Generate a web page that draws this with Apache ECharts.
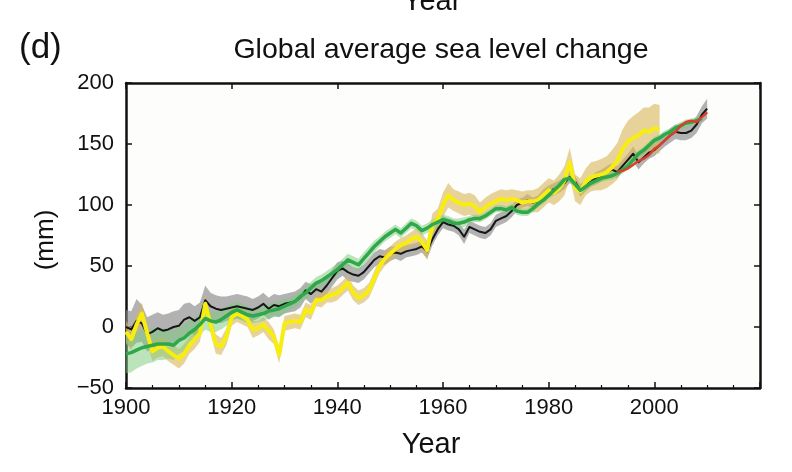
<!DOCTYPE html>
<html>
<head>
<meta charset="utf-8">
<script src="https://cdn.jsdelivr.net/npm/echarts@6/dist/echarts.min.js"></script>
<style>html,body{margin:0;padding:0;background:#fff}#c{width:792px;height:472px}</style>
</head>
<body>
<div id="c"></div>
<script>
// ---- data (mm), annual values ----
const blackStart = 1900;
const blackVals = [
 0,-2,5,3,-6,-4,-1,-3,-2,0,
 1,6,8,5,8,22,17,15,14,15,
 16,17,16,15,14,16,19,15,18,17,
 19,20,21,24,30,27,31,29,34,40,
 46,48,45,43,42,45,50,55,58,57,
 60,61,60,62,63,64,66,62,72,80,
 86,84,83,80,74,82,80,78,77,80,
 87,89,91,95,100,102,104,102,103,108,
 111,113,115,118,123,119,112,116,119,122,
 124,127,129,127,132,137,142,135,139,143,
 145,149,153,157,160,159,159,161,166,174,179];
const blackErr = [
 14,15,18,15,14,14,13,13,13,13,
 13,13,12,12,12,12,11,11,11,10,
 10,10,10,10,9,9,9,9,9,9,
 8,8,8,8,7,8,7,7,7,7,
 7,6,7,6,6,6,6,6,6,6,
 6,5,6,5,5,5,5,6,5,5,
 5,5,5,5,6,5,5,5,5,5,
 5,5,5,5,5,4,5,4,5,5,
 5,5,5,5,5,5,5,5,4,5,
 5,5,5,5,5,5,6,6,5,5,
 5,5,5,6,6,6,6,6,7,7,8];

const yellowStart = 1900;
const yellowVals = [
 -4,-10,2,11,-5,-20,-17,-16,-20,-23,
 -26,-22,-15,-10,-5,19,2,-14,-16,-8,
 8,11,9,6,-2,-1,2,-3,-8,-23,
 3,4,5,4,14,12,22,22,25,26,
 28,32,36,28,24,26,30,40,50,56,
 60,64,67,69,72,74,70,63,84,88,
 100,108,104,102,100,101,99,94,98,101,
 103,105,104,105,104,102,103,103,104,108,
 112,110,114,120,135,114,111,119,123,124,
 125,127,131,136,146,152,155,157,161,160,
 163,162];
const yellowErr = [
 9,9,8,9,8,8,8,8,8,8,
 8,8,7,8,7,8,7,8,7,7,
 7,7,7,6,7,6,6,7,6,7,
 6,6,6,6,6,6,5,6,5,6,
 6,6,6,6,6,6,6,6,6,6,
 6,6,6,6,6,7,7,8,9,9,
 10,10,9,9,9,9,9,8,8,8,
 8,8,8,8,8,9,9,9,10,10,
 10,10,11,12,12,11,11,11,12,12,
 13,13,14,15,16,17,18,19,19,20,
 20,20];

const greenStart = 1900;
const greenVals = [
 -22,-21,-19,-17,-16,-15,-14,-14,-14,-15,
 -11,-9,-5,-2,2,7,5,4,6,9,
 12,14,12,10,9,10,11,13,14,15,
 17,19,21,25,28,32,36,38,41,44,
 47,51,55,53,51,56,61,66,70,74,
 77,80,77,81,85,83,79,81,84,86,
 88,87,85,85,86,88,89,89,91,94,
 97,97,96,98,95,94,94,97,101,104,
 108,112,116,121,122,117,112,115,118,120,
 122,123,124,126,129,132,137,142,145,149,
 153,155,158,160,163,165,167,168,169,171];
const greenErr = [
 16,16,15,15,14,14,13,13,12,12,
 11,11,10,10,9,9,9,8,8,8,
 7,7,7,7,6,6,6,6,6,6,
 6,5,5,5,5,5,5,5,5,5,
 5,5,5,5,5,5,5,5,4,4,
 4,4,4,4,4,4,4,4,4,4,
 4,4,4,4,4,3,3,3,3,3,
 3,3,3,3,3,3,3,3,3,3,
 3,3,3,3,3,3,3,3,3,3,
 3,3,3,3,3,3,3,3,3,3,
 3,3,3,3,3,3,3,3,3,3];

const redStart = 1993;
const redVals = [127,128,130,133,136,138,141,146,149,153,157,160,165,168,169,168,172,176];

const xTicks = [1900,1920,1940,1960,1980,2000];
const yTicks = [-50,0,50,100,150,200];

// ---- helpers ----
function pts(start, vals){ return vals.map((v,i)=>[start+i, v]); }
function band(start, vals, err, color, opacity, z){
  return {
    type:'custom', silent:true, z:z, clip:true,
    data:[[start, vals[0]]],
    renderItem:function(params, api){
      const up=[], lo=[];
      for(let i=0;i<vals.length;i++){
        up.push(api.coord([start+i, vals[i]+err[i]]));
        lo.push(api.coord([start+i, vals[i]-err[i]]));
      }
      return {type:'polygon', shape:{points:up.concat(lo.reverse())},
              style:{fill:color, opacity:opacity}};
    }
  };
}
function line(start, vals, color, width, z){
  return {type:'line', data:pts(start, vals), symbol:'none', z:z, silent:true,
    lineStyle:{color:color, width:width, join:'round'}, animation:false};
}

const FONT = '"Liberation Sans", Arial, Helvetica, sans-serif';
const chart = echarts.init(document.getElementById('c'), null, {renderer:'canvas'});
const axisLine = {show:true, onZero:false, lineStyle:{color:'#111', width:2.5}};
const tick = {show:true, inside:true, length:6, lineStyle:{color:'#111', width:1.5}};
chart.setOption({
  animation:false,
  backgroundColor:'#ffffff',
  grid:{left:126, right:32, top:83, bottom:84, show:true, backgroundColor:'#fdfdfb', borderWidth:0},
  xAxis:[
    {type:'value', min:1900, max:2020, interval:20, position:'bottom',
     axisLine:axisLine, axisTick:tick,
     minorTick:{show:true, splitNumber:4, length:3, lineStyle:{color:'#111', width:1.2}},
     splitLine:{show:false},
     axisLabel:{color:'#111', fontSize:22, fontFamily:FONT, margin:9,
       formatter:function(v){ return xTicks.indexOf(v)>=0 ? String(v) : ''; }}},
    {type:'value', min:1900, max:2020, interval:20, position:'top',
     axisLine:axisLine, axisTick:tick,
     splitLine:{show:false}, axisLabel:{show:false}}
  ],
  yAxis:[
    {type:'value', min:-50, max:200, interval:50, position:'left',
     axisLine:axisLine, axisTick:tick,
     splitLine:{show:false},
     axisLabel:{color:'#111', fontSize:22, fontFamily:FONT, margin:12,
       formatter:function(v){ return yTicks.indexOf(v)>=0 ? (v<0 ? '\u2212'+Math.abs(v) : String(v)) : ''; }}},
    {type:'value', min:-50, max:200, interval:50, position:'right',
     axisLine:axisLine, axisTick:tick,
     splitLine:{show:false}, axisLabel:{show:false}}
  ],
  series:[
    band(blackStart, blackVals, blackErr, '#8a8a8a', 0.65, 1),
    band(yellowStart, yellowVals, yellowErr, '#d8b85a', 0.6, 2),
    band(greenStart, greenVals, greenErr, '#7ccb7c', 0.5, 3),
    line(blackStart, blackVals, '#161616', 2, 4),
    line(yellowStart, yellowVals, '#f7ee10', 4, 5),
    line(greenStart, greenVals, '#2ea84a', 3.5, 6),
    line(redStart, redVals, '#d8402c', 2.5, 7)
  ],
  graphic:[
    {type:'text', left:19, top:31, style:{text:'(d)', fontSize:35, fontFamily:FONT, fill:'#111'}},
    {type:'text', x:441, y:50, style:{text:'Global average sea level change', fontSize:28.5, fontFamily:FONT, fill:'#111', textAlign:'center', textVerticalAlign:'middle'}},
    {type:'text', x:432, y:-13, style:{text:'Year', fontSize:29, fontFamily:FONT, fill:'#111', textAlign:'center', textVerticalAlign:'top'}},
    {type:'text', x:431, y:445, style:{text:'Year', fontSize:29, fontFamily:FONT, fill:'#111', textAlign:'center', textVerticalAlign:'middle'}},
    {type:'text', x:46, y:240, rotation:Math.PI/2, style:{text:'(mm)', fontSize:26, fontFamily:FONT, fill:'#111', textAlign:'center', textVerticalAlign:'middle'}}
  ]
});
</script>
</body>
</html>
